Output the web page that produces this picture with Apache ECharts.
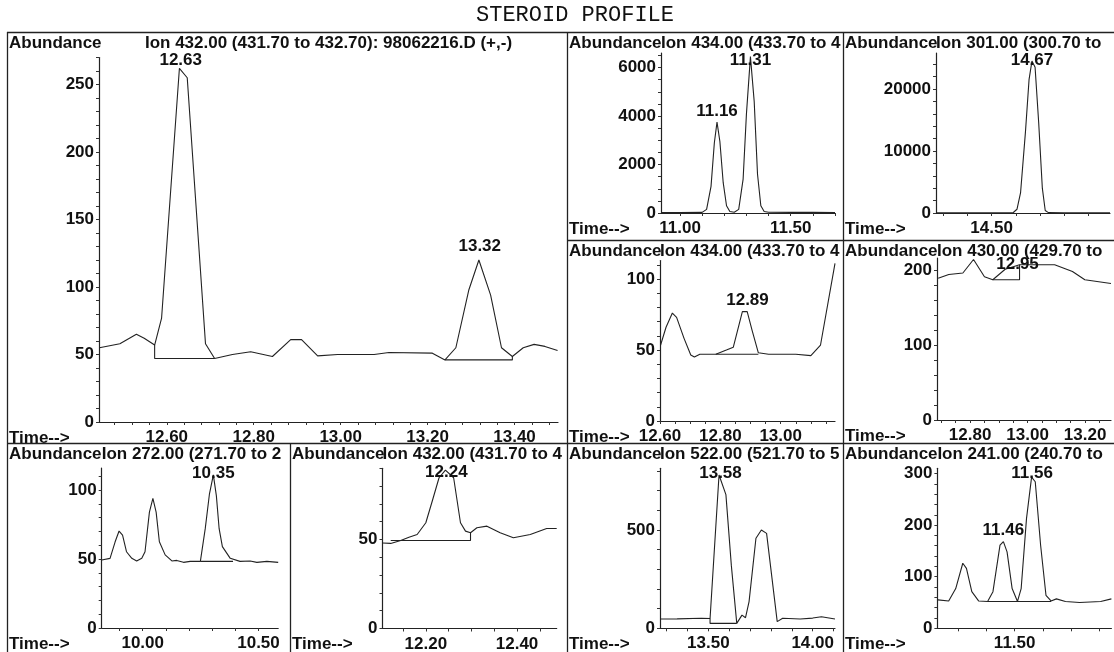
<!DOCTYPE html>
<html><head><meta charset="utf-8">
<script src="https://cdn.jsdelivr.net/npm/echarts@6/dist/echarts.min.js"></script>
<style>html,body{margin:0;padding:0;background:#fff}#c{width:1114px;height:652px}</style>
</head><body><div id="c"></div>
<script>
// ---------------- DATA ----------------
const chartTitle = 'STEROID PROFILE';
const axisName = 'Abundance';
const timeName = 'Time-->';

// Panel 1: Ion 432 (large)
const ion432Title = 'Ion 432.00 (431.70 to 432.70): 98062216.D (+,-)';
const ion432Trace = [[12.445,55],[12.492,58],[12.53,65],[12.548,62],[12.572,57],[12.588,77],[12.629,262],[12.647,255],[12.689,58],[12.71,47],[12.751,50],[12.793,52],[12.843,48.5],[12.885,61],[12.91,61],[12.947,49],[12.993,50],[13.077,50],[13.111,51.5],[13.211,51],[13.24,46],[13.265,55],[13.295,98],[13.318,120],[13.345,94],[13.37,55],[13.395,48.5],[13.42,55],[13.445,57.5],[13.47,56],[13.499,53]];
const ion432Baselines = [[[12.572,57],[12.572,47],[12.71,47]], [[13.24,46],[13.395,46],[13.395,48.5]]];
const ion432Peaks = [[12.632,268,'12.63'],[13.32,130,'13.32']];
const ion432XLabels = [12.60,12.80,13.00,13.20,13.40];
const ion432YLabels = [0,50,100,150,200,250];

// Panel 2: Ion 434 (11.0 - 11.7)
const ion434aTitle = 'Ion 434.00 (433.70 to 4';
const ion434aTrace = [[10.914,20],[11.0,20],[11.10,25],[11.12,150],[11.14,1100],[11.155,2900],[11.167,3750],[11.18,2950],[11.195,1250],[11.21,300],[11.225,60],[11.245,30],[11.265,150],[11.285,1400],[11.30,4100],[11.318,6450],[11.335,4600],[11.35,1600],[11.365,300],[11.38,60],[11.40,30],[11.50,25],[11.60,25],[11.70,20]];
const ion434aBaselines = [];
const ion434aPeaks = [[11.167,4180,'11.16'],[11.318,6310,'11.31']];
const ion434aXLabels = [11.00,11.50];
const ion434aYLabels = [0,2000,4000,6000];

// Panel 3: Ion 301
const ion301Title = 'Ion 301.00 (300.70 to';
const ion301Trace = [[14.27,50],[14.40,50],[14.50,50],[14.59,80],[14.605,600],[14.62,3300],[14.64,13000],[14.655,21500],[14.667,24500],[14.68,23500],[14.695,14500],[14.71,4000],[14.722,400],[14.735,60],[14.80,50],[14.90,50],[14.99,50]];
const ion301Baselines = [];
const ion301Peaks = [[14.667,24700,'14.67']];
const ion301XLabels = [14.50];
const ion301YLabels = [0,10000,20000];

// Panel 4: Ion 434 (12.6 - 13.2)
const ion434bTitle = 'Ion 434.00 (433.70 to 4';
const ion434bTrace = [[12.602,53.5],[12.62,66],[12.641,76],[12.655,73],[12.68,58],[12.702,46.5],[12.714,45],[12.732,47],[12.785,47],[12.82,50],[12.843,52],[12.873,77],[12.889,77],[12.905,64],[12.926,48],[12.96,47],[13.05,47],[13.10,46],[13.132,53.5],[13.18,111]];
const ion434bBaselines = [[[12.785,47],[12.926,47]]];
const ion434bPeaks = [[12.89,85,'12.89']];
const ion434bXLabels = [12.60,12.80,13.00];
const ion434bYLabels = [0,50,100];

// Panel 5: Ion 430
const ion430Title = 'Ion 430.00 (429.70 to';
const ion430Trace = [[12.689,189],[12.726,194],[12.775,196],[12.812,214],[12.85,191],[12.879,187],[12.922,201],[12.972,207],[13.094,207],[13.156,198],[13.199,187],[13.29,182]];
const ion430Baselines = [[[12.879,187],[12.972,187],[12.972,207]]];
const ion430Peaks = [[12.965,207,'12.95']];
const ion430XLabels = [12.80,13.00,13.20];
const ion430YLabels = [0,100,200];

// Panel 6: Ion 272
const ion272Title = 'Ion 272.00 (271.70 to 2';
const ion272Trace = [[9.823,49.3],[9.859,50.5],[9.881,62.5],[9.898,70.3],[9.913,67.4],[9.93,55.3],[9.953,50.5],[9.974,48.6],[9.996,50.5],[10.01,55.3],[10.029,84],[10.044,94],[10.058,84],[10.072,62.5],[10.097,53],[10.126,48.6],[10.147,49],[10.176,47.6],[10.205,48.3],[10.249,48.3],[10.27,72],[10.288,97],[10.305,111],[10.318,96],[10.33,72],[10.344,59],[10.378,50.5],[10.42,48.3],[10.464,48.6],[10.493,47.6],[10.536,48.3],[10.585,47.6]];
const ion272Baselines = [[[10.249,48.3],[10.39,48.3]]];
const ion272Peaks = [[10.305,112,'10.35']];
const ion272XLabels = [10.00,10.50];
const ion272YLabels = [0,50,100];

// Panel 7: Ion 432 (12.1 - 12.5)
const ion432bTitle = 'Ion 432.00 (431.70 to 4';
const ion432bTrace = [[12.105,48],[12.123,47.8],[12.145,49.4],[12.163,51.3],[12.181,52.8],[12.20,59.4],[12.214,71.5],[12.229,84.7],[12.243,89],[12.261,84.7],[12.276,59.4],[12.287,54.7],[12.298,53.8],[12.312,56.6],[12.334,57.5],[12.363,53.8],[12.392,51],[12.429,52.8],[12.465,56.2],[12.487,56.2]];
const ion432bBaselines = [[[12.123,49.4],[12.298,49.4],[12.298,53.8]]];
const ion432bPeaks = [[12.245,87.5,'12.24']];
const ion432bXLabels = [12.20,12.40];
const ion432bYLabels = [0,50];

// Panel 8: Ion 522
const ion522Title = 'Ion 522.00 (521.70 to 5';
const ion522Trace = [[13.268,47],[13.35,48],[13.466,51],[13.508,50],[13.551,780],[13.56,790],[13.584,680],[13.61,320],[13.636,25],[13.661,67],[13.678,54],[13.695,136],[13.728,458],[13.754,500],[13.779,483],[13.805,254],[13.83,34],[13.856,51],[13.94,47],[14.00,52],[14.042,59],[14.107,47]];
const ion522Baselines = [[[13.508,50],[13.508,25],[13.636,25]]];
const ion522Peaks = [[13.558,790,'13.58']];
const ion522XLabels = [13.50,14.00];
const ion522YLabels = [0,500];

// Panel 9: Ion 241
const ion241Title = 'Ion 241.00 (240.70 to';
const ion241Trace = [[11.228,55],[11.266,53],[11.291,77],[11.316,126],[11.329,116],[11.348,71],[11.372,53],[11.404,52],[11.423,71],[11.448,161],[11.46,168],[11.473,148],[11.491,77],[11.51,52],[11.523,77],[11.542,213],[11.56,293],[11.573,284],[11.592,161],[11.611,64],[11.629,53],[11.648,57],[11.68,52],[11.73,50],[11.805,52],[11.843,57]];
const ion241Baselines = [[[11.404,52],[11.629,52]]];
const ion241Peaks = [[11.46,190,'11.46'],[11.562,300,'11.56']];
const ion241XLabels = [11.50];
const ion241YLabels = [0,100,200,300];

// ---------------- LAYOUT / BUILD ----------------
const range = (a, b, s) => { const o = []; for (let v = a; v <= b + 1e-9; v += s) o.push(Math.round(v * 1000) / 1000); return o; };
const FONT = '"Liberation Sans", Arial, sans-serif';
const FS = 17;
const INK = '#111';

const panels = [
  { title: ion432Title, center: true, box: [7, 32], grid: { left: 99, top: 57.5, width: 459, height: 364.5 }, x: [12.444, 13.50], y: [0, 270],
    trace: ion432Trace, base: ion432Baselines, peaks: ion432Peaks, xl: ion432XLabels, yl: ion432YLabels, xt: range(12.48, 13.48, 0.04), yt: range(0, 270, 10) },
  { title: ion434aTitle, box: [567, 32], grid: { left: 661, top: 53, width: 174, height: 160 }, x: [10.914, 11.70], y: [0, 6600],
    trace: ion434aTrace, base: ion434aBaselines, peaks: ion434aPeaks, xl: ion434aXLabels, yl: ion434aYLabels, xt: range(11.0, 11.7, 0.1), yt: range(0, 6500, 500) },
  { title: ion301Title, box: [843, 32], grid: { left: 936, top: 53, width: 174, height: 160 }, x: [14.27, 14.99], y: [0, 25800],
    trace: ion301Trace, base: ion301Baselines, peaks: ion301Peaks, xl: ion301XLabels, yl: ion301YLabels, xt: range(14.3, 14.9, 0.1), yt: range(0, 24000, 2000) },
  { title: ion434bTitle, box: [567, 240], grid: { left: 660, top: 260.5, width: 175, height: 160.5 }, x: [12.60, 13.18], y: [0, 113],
    trace: ion434bTrace, base: ion434bBaselines, peaks: ion434bPeaks, xl: ion434bXLabels, yl: ion434bYLabels, xt: range(12.60, 13.15, 0.05), yt: range(0, 110, 10) },
  { title: ion430Title, box: [843, 240], grid: { left: 937, top: 258, width: 174, height: 162 }, x: [12.685, 13.29], y: [0, 216],
    trace: ion430Trace, base: ion430Baselines, peaks: ion430Peaks, xl: ion430XLabels, yl: ion430YLabels, xt: range(12.70, 13.25, 0.05), yt: range(0, 200, 20) },
  { title: ion272Title, box: [7, 443], grid: { left: 101.7, top: 468, width: 176.5, height: 160 }, x: [9.823, 10.585], y: [0, 116],
    trace: ion272Trace, base: ion272Baselines, peaks: ion272Peaks, xl: ion272XLabels, yl: ion272YLabels, xt: range(9.9, 10.5, 0.1), yt: range(0, 110, 10) },
  { title: ion432bTitle, box: [290, 443], grid: { left: 382.5, top: 468.3, width: 174.2, height: 160.2 }, x: [12.105, 12.487], y: [0, 90],
    trace: ion432bTrace, base: ion432bBaselines, peaks: ion432bPeaks, xl: ion432bXLabels, yl: ion432bYLabels, xt: range(12.15, 12.45, 0.05), yt: range(0, 90, 10) },
  { title: ion522Title, box: [567, 443], grid: { left: 660, top: 468.3, width: 175, height: 160 }, x: [13.268, 14.107], y: [0, 814],
    trace: ion522Trace, base: ion522Baselines, peaks: ion522Peaks, xl: ion522XLabels, yl: ion522YLabels, xt: range(13.3, 14.1, 0.1), yt: range(0, 800, 100) },
  { title: ion241Title, box: [843, 443], grid: { left: 937.4, top: 468.3, width: 174, height: 160 }, x: [11.226, 11.843], y: [0, 310],
    trace: ion241Trace, base: ion241Baselines, peaks: ion241Peaks, xl: ion241XLabels, yl: ion241YLabels, xt: range(11.3, 11.8, 0.1), yt: range(0, 300, 20) }
];

const grids = [], xAxes = [], yAxes = [], series = [], graphics = [];
const txt = (text, x, y, font, align) => ({ type: 'text', silent: true, style: { text, x, y, font, fill: INK, textAlign: align || 'left', textVerticalAlign: 'middle' } });
const seg = (x1, y1, x2, y2) => ({ type: 'line', silent: true, shape: { x1, y1, x2, y2 }, style: { stroke: '#222', lineWidth: 1.3 } });

panels.forEach((p, i) => {
  grids.push(Object.assign({ containLabel: false, outerBoundsMode: 'none' }, p.grid));
  const lab = { fontFamily: FONT, fontSize: FS, fontWeight: 'bold', color: INK };
  xAxes.push({ type: 'value', gridIndex: i, min: p.x[0], max: p.x[1],
    axisLine: { show: true, onZero: false, lineStyle: { color: '#222', width: 1.2 } },
    axisTick: { show: true, customValues: p.xt, length: 3, lineStyle: { color: '#333', width: 1 } },
    axisLabel: Object.assign({ customValues: p.xl, margin: 7, formatter: v => v.toFixed(2) }, lab),
    splitLine: { show: false } });
  yAxes.push({ type: 'value', gridIndex: i, min: p.y[0], max: p.y[1],
    axisLine: { show: true, onZero: false, lineStyle: { color: '#222', width: 1.2 } },
    axisTick: { show: true, customValues: p.yt, length: 3, lineStyle: { color: '#333', width: 1 } },
    axisLabel: Object.assign({ customValues: p.yl, margin: 5, formatter: v => String(Math.round(v)) }, lab),
    splitLine: { show: false } });
  series.push({ type: 'line', xAxisIndex: i, yAxisIndex: i, data: p.trace, showSymbol: false, symbol: 'none', silent: true,
    lineStyle: { color: '#222', width: 1.1 }, z: 3 });
  p.base.forEach(b => series.push({ type: 'line', xAxisIndex: i, yAxisIndex: i, data: b, showSymbol: false, symbol: 'none', silent: true,
    lineStyle: { color: '#222', width: 1.1 }, z: 3 }));
  series.push({ type: 'scatter', xAxisIndex: i, yAxisIndex: i, symbolSize: 0, silent: true, clip: false, z: 4,
    itemStyle: { opacity: 1, color: INK },
    data: p.peaks.map(k => ({ value: [k[0], k[1]], name: k[2] })),
    label: { show: true, position: 'inside', formatter: '{b}', fontFamily: FONT, fontSize: FS, fontWeight: 'bold', color: INK, opacity: 1 } });

  const bx = p.box[0], by = p.box[1];
  const f = 'bold ' + FS + 'px ' + FONT;
  graphics.push(txt(axisName, bx + 2, by + 11, f));
  if (p.center) graphics.push(txt(p.title, p.grid.left + p.grid.width / 2, by + 11, f, 'center'));
  else graphics.push(txt(p.title, p.grid.left, by + 11, f));
  graphics.push(txt(timeName, bx + 2, p.grid.top + p.grid.height + 16, f));
});

// frame lines
graphics.push(seg(7, 32.5, 1114, 32.5), seg(7.5, 32, 7.5, 652), seg(567.5, 32, 567.5, 652), seg(843.5, 32, 843.5, 652),
  seg(567, 240.5, 1114, 240.5), seg(7, 443.5, 1114, 443.5), seg(290.5, 443, 290.5, 652));
graphics.push(txt(chartTitle, 575, 15, '22px "Liberation Mono", "Courier New", monospace', 'center'));

const chart = echarts.init(document.getElementById('c'), null, { renderer: 'canvas' });
chart.setOption({ backgroundColor: '#fff', animation: false, grid: grids, xAxis: xAxes, yAxis: yAxes, series, graphic: { elements: graphics } });
</script></body></html>
